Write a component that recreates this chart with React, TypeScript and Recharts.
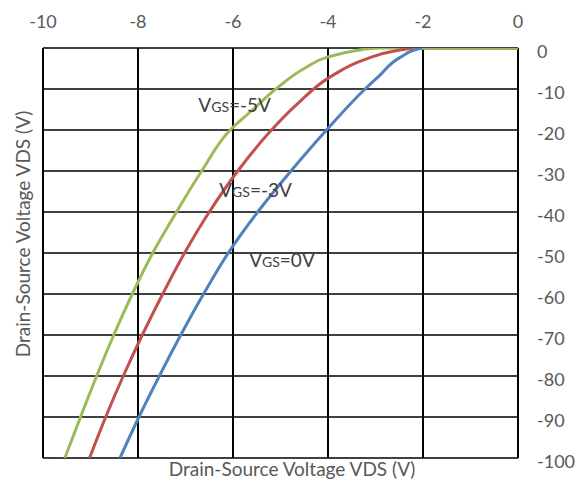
import React from 'react';
import { LineChart, Line, XAxis, YAxis, CartesianGrid, ReferenceDot } from 'recharts';

const xTicks = [-10, -8, -6, -4, -2, 0];
const yTicks = [0, -10, -20, -30, -40, -50, -60, -70, -80, -90, -100];

// VGS = 0V (blue)
const vgs0X = [-8.38, -7.98, -7.55, -7.1, -6.62, -6.1, -5.48, -4.78, -4.03, -3.22, -2.95, -2.48, -2.1, -2.03, 0];
const vgs0Y = [-100, -90, -80, -70, -60, -50, -40, -30, -20, -10, -7.1, -2.3, -0.2, 0, 0];

// VGS = -3V (red)
const vgs3X = [-9.02, -8.68, -8.31, -7.91, -7.48, -7.02, -6.5, -5.9, -5.19, -4.65, -3.96, -3.2, -2.55, -2.2, 0];
const vgs3Y = [-100, -90, -80, -70, -60, -50, -40, -30, -20, -13.7, -7.1, -2.7, -0.6, 0, 0];

// VGS = -5V (green)
const vgs5X = [-9.54, -9.21, -8.87, -8.51, -8.12, -7.69, -7.19, -6.66, -6.06, -5.58, -5.1, -4.5, -4.03, -3.4, -3.1, -2.9, 0];
const vgs5Y = [-100, -90, -80, -70, -60, -50, -40, -30, -20, -15, -10, -5, -2.3, -0.6, -0.15, 0, 0];

const labelTexts = ['=-5V', '=-3V', '=0V'];
const labelX = [-6.73, -6.29, -5.66];
const labelY = [-15.7, -36.3, -53.3];

const axisTitle = 'Drain-Source Voltage VDS (V)';

const toPoints = (xs: number[], ys: number[]) => xs.map((x, i) => ({ x, y: ys[i] }));
// curved part: up to the first point that reaches 0; flat tail: from there on
const curvePart = (xs: number[], ys: number[]) => {
  const k = ys.findIndex((v) => v >= 0);
  return toPoints(xs.slice(0, k + 1), ys.slice(0, k + 1));
};
const tailPart = (xs: number[], ys: number[]) => {
  const k = ys.findIndex((v) => v >= 0);
  return toPoints(xs.slice(k), ys.slice(k));
};

const FONT = 'Lato, "Open Sans", sans-serif';
const TICK_COLOR = '#595959';

const makeLabelShape = (suffix: string) => (props: any) => (
  <text x={props.cx} y={props.cy} fill="#404040" fontFamily={FONT}>
    <tspan fontSize={19}>V</tspan>
    <tspan fontSize={14}>GS</tspan>
    <tspan fontSize={19}>{suffix}</tspan>
  </text>
);

const series = [
  { xs: vgs0X, ys: vgs0Y, color: '#4F81BD' },
  { xs: vgs3X, ys: vgs3Y, color: '#C0504D' },
  { xs: vgs5X, ys: vgs5Y, color: '#9BBB59' },
];

export default function App() {
  const W = 585;
  const H = 486;
  return (
    <div style={{ position: 'absolute', left: 0, top: 0, width: W, height: H, background: '#fff' }}>
      <LineChart
        width={W}
        height={H}
        margin={{ top: 8, right: 7, left: 43, bottom: 28 }}
      >
        <CartesianGrid
          vertical={false}
          stroke="#000"
          strokeWidth={1.5}
          horizontalValues={yTicks}
        />
        <CartesianGrid
          horizontal={false}
          stroke="#000"
          strokeWidth={2}
          verticalValues={xTicks}
        />
        <XAxis
          type="number"
          dataKey="x"
          orientation="top"
          domain={[-10, 0]}
          ticks={xTicks}
          height={40}
          axisLine={false}
          tickLine={false}
          tickSize={0}
          tickMargin={20}
          interval={0}
          allowDataOverflow
          tick={{ fill: TICK_COLOR, fontSize: 18, fontFamily: FONT }}
        />
        <YAxis
          type="number"
          dataKey="y"
          orientation="right"
          domain={[-100, 0]}
          ticks={yTicks}
          width={60}
          axisLine={false}
          tickLine={false}
          tickSize={0}
          tickMargin={19}
          interval={0}
          allowDataOverflow
          tick={{ fill: TICK_COLOR, fontSize: 18, fontFamily: FONT, dy: 4 }}
        />
        {series.map((s, i) => (
          <Line
            key={'t' + i}
            data={tailPart(s.xs, s.ys)}
            dataKey="y"
            type="linear"
            stroke={s.color}
            strokeWidth={3}
            dot={false}
            isAnimationActive={false}
          />
        ))}
        {series.map((s, i) => (
          <Line
            key={'c' + i}
            data={curvePart(s.xs, s.ys)}
            dataKey="y"
            type="monotoneY"
            stroke={s.color}
            strokeWidth={3}
            dot={false}
            isAnimationActive={false}
          />
        ))}
        {labelTexts.map((t, i) => (
          <ReferenceDot
            key={t}
            x={labelX[i]}
            y={labelY[i]}
            r={0}
            shape={makeLabelShape(t)}
          />
        ))}
      </LineChart>
      <svg
        width={W}
        height={H}
        style={{ position: 'absolute', left: 0, top: 0, pointerEvents: 'none' }}
      >
        <text x={292} y={476} textAnchor="middle" fill={TICK_COLOR} fontSize={19} fontFamily={FONT}>
          {axisTitle}
        </text>
        <text
          x={0}
          y={0}
          transform="translate(30 234) rotate(-90)"
          textAnchor="middle"
          fill={TICK_COLOR}
          fontSize={19}
          fontFamily={FONT}
        >
          {axisTitle}
        </text>
      </svg>
    </div>
  );
}
